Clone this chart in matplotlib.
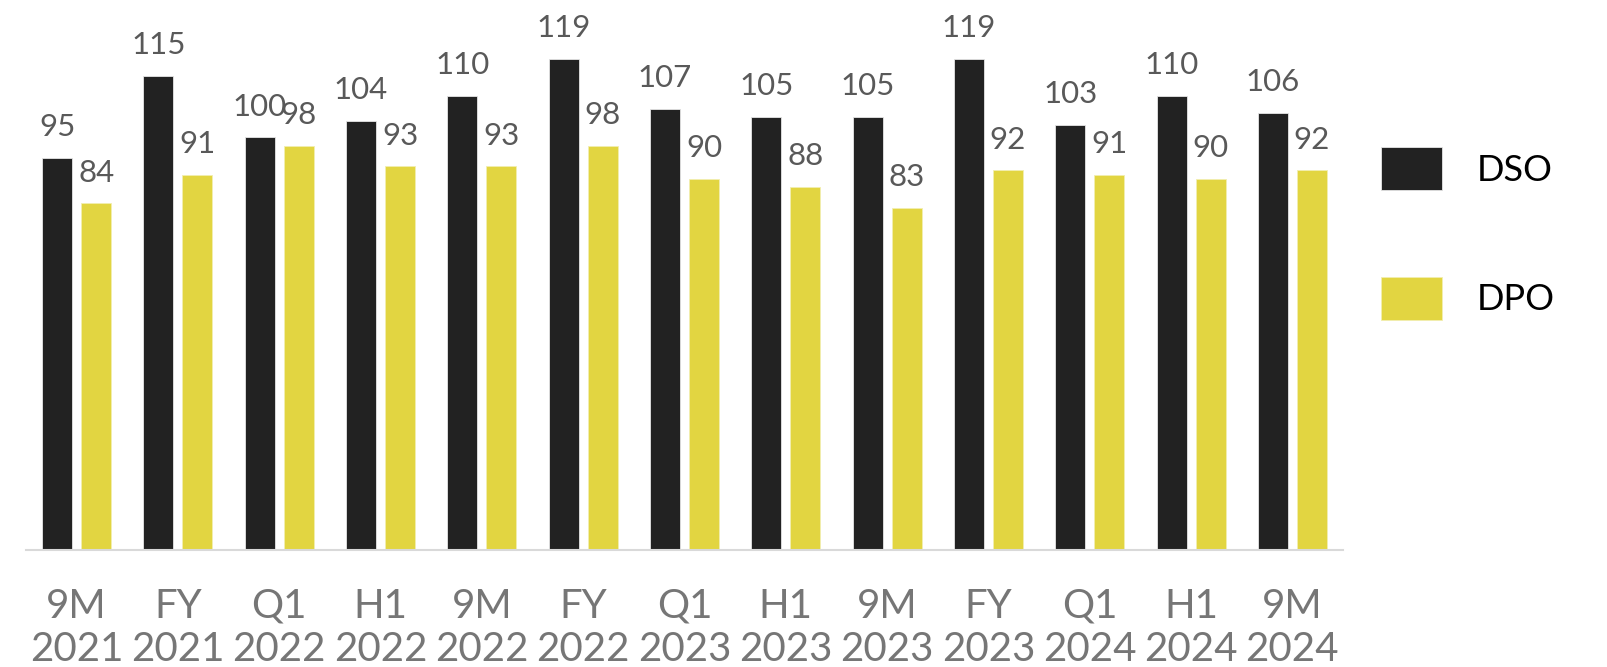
import matplotlib.pyplot as plt
import numpy as np

plt.rcParams['font.family'] = ['Lato', 'DejaVu Sans']

periods = ["9M\n2021", "FY\n2021", "Q1\n2022", "H1\n2022", "9M\n2022", "FY\n2022",
           "Q1\n2023", "H1\n2023", "9M\n2023", "FY\n2023", "Q1\n2024", "H1\n2024",
           "9M\n2024"]
dso = [95, 115, 100, 104, 110, 119, 107, 105, 105, 119, 103, 110, 106]
dpo = [84, 91, 98, 93, 93, 98, 90, 88, 83, 92, 91, 90, 92]

fig = plt.figure(figsize=(16.07, 6.67), dpi=100)
ax = fig.add_axes([26 / 1607, 117 / 667, 1317 / 1607, 550 / 667])

x = np.arange(len(periods))
w = 30 / 101.3
gap = 9 / 101.3
off = (w + gap) / 2

b1 = ax.bar(x - off, dso, w, color='#222222', edgecolor='#e6e6e6', linewidth=0.6, label='DSO')
b2 = ax.bar(x + off, dpo, w, color='#e2d541', edgecolor='#f2eeb0', linewidth=0.6, label='DPO')

for bars in (b1, b2):
    ax.bar_label(bars, padding=12, fontsize=22.5, color='#595959')

ax.set_xlim(-0.5, len(periods) - 0.5)
ax.set_ylim(0, 133.3)
ax.set_xticks(x)
ax.set_xticklabels(periods, fontsize=29, color='#767676', linespacing=1.22)
ax.tick_params(axis='x', length=0, pad=27)
ax.set_yticks([])

for s in ['top', 'right', 'left']:
    ax.spines[s].set_visible(False)
ax.spines['bottom'].set_color('#d9d9d9')
ax.spines['bottom'].set_linewidth(1.5)

fig.legend(loc='center left', bbox_to_anchor=(1381 / 1607, 1 - 233.5 / 667),
           frameon=False, fontsize=26, handlelength=1.7, handleheight=1.46,
           handletextpad=0.95, labelspacing=2.4, borderpad=0, borderaxespad=0)

fig.savefig('out.png', dpi=100)
